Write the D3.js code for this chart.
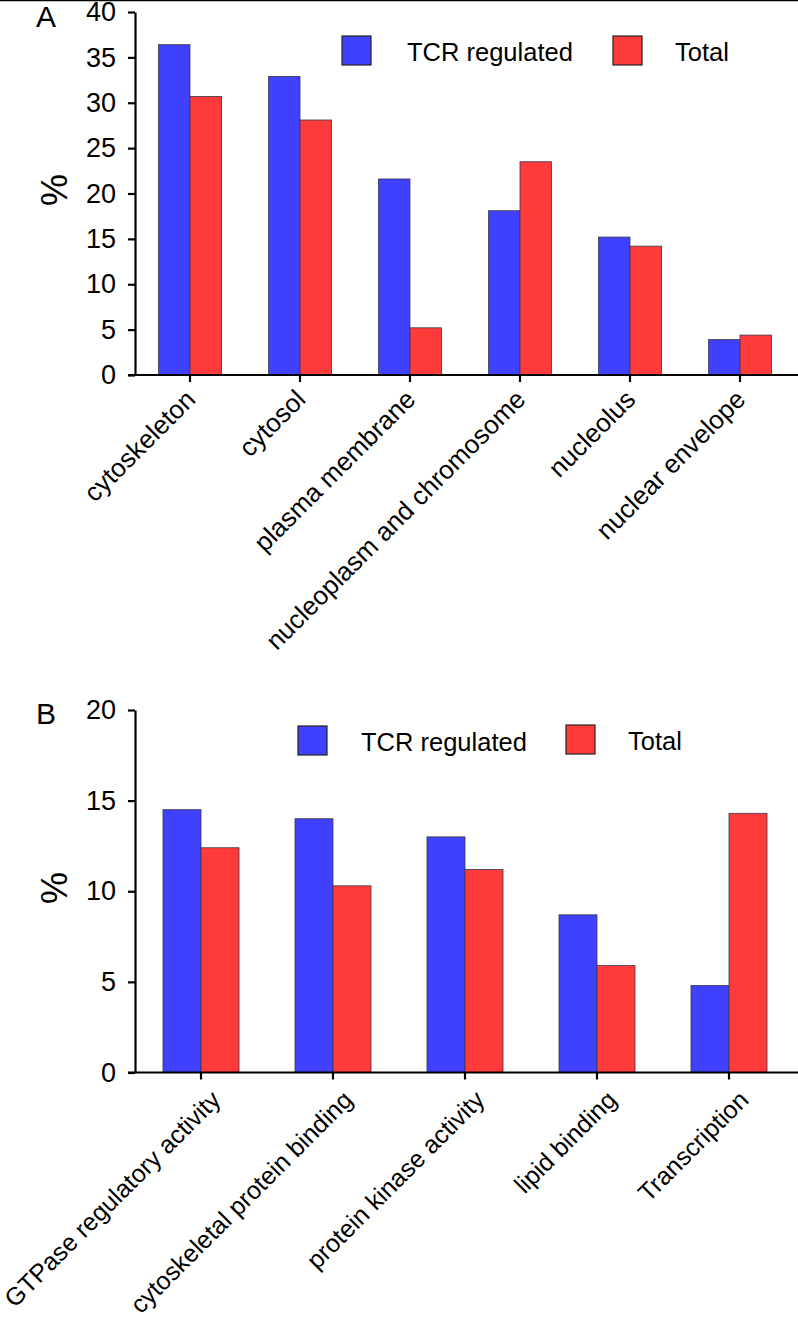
<!DOCTYPE html>
<html>
<head>
<meta charset="utf-8">
<script src="https://cdn.jsdelivr.net/npm/d3@7"></script>
<style>
  html, body { margin: 0; padding: 0; background: #fff; }
  svg { display: block; }
  text { font-family: "Liberation Sans", Arial, sans-serif; fill: #000; }
</style>
</head>
<body>
<svg id="chart" width="798" height="1330"></svg>
<script>
// ---- Data ----
const categoriesA = ["cytoskeleton", "cytosol", "plasma membrane", "nucleoplasm and chromosome", "nucleolus", "nuclear envelope"];
const tcrA = [36.4, 32.9, 21.6, 18.1, 15.2, 3.9];
const totalA = [30.7, 28.1, 5.2, 23.5, 14.2, 4.4];
const ticksA = [0, 5, 10, 15, 20, 25, 30, 35, 40];

const categoriesB = ["GTPase regulatory activity", "cytoskeletal protein binding", "protein kinase activity", "lipid binding", "Transcription"];
const tcrB = [14.5, 14.0, 13.0, 8.7, 4.8];
const totalB = [12.4, 10.3, 11.2, 5.9, 14.3];
const ticksB = [0, 5, 10, 15, 20];

const seriesNames = ["TCR regulated", "Total"];
const seriesColors = ["#4040FF", "#FF3A3A"];

const svg = d3.select("#chart");

// top border line
svg.append("line").attr("x1", 0).attr("x2", 798).attr("y1", 0.5).attr("y2", 0.5)
  .attr("stroke", "#000").attr("stroke-width", 1.5);

function panel(opts) {
  const { cats, s1, s2, ticks, yMax, top, bottom, left, right, letter, letterY,
          legend, labelOff, labelSize, pctY } = opts;
  const g = svg.append("g");
  const x = d3.scaleBand().domain(cats).range([left, right]).paddingInner(opts.pad).paddingOuter(opts.pad / 2);
  const y = d3.scaleLinear().domain([0, yMax]).range([bottom, top]);
  const xs = d3.scaleBand().domain([0, 1]).range([0, x.bandwidth()]);

  const rows = cats.map((c, i) => ({ c, v: [s1[i], s2[i]] }));
  const grp = g.selectAll(".grp").data(rows).join("g")
    .attr("transform", d => `translate(${x(d.c)},0)`);
  grp.selectAll("rect").data(d => d.v.map((v, k) => ({ v, k }))).join("rect")
    .attr("x", d => xs(d.k))
    .attr("width", xs.bandwidth())
    .attr("y", d => y(d.v))
    .attr("height", d => y(0) - y(d.v))
    .attr("fill", d => seriesColors[d.k])
    .attr("stroke", "#3a3a4a")
    .attr("stroke-width", 0.8);

  // y axis
  const ya = g.append("g").attr("transform", `translate(${left},0)`)
    .call(d3.axisLeft(y).tickValues(ticks).tickSize(7).tickPadding(12).tickSizeOuter(0));
  ya.select(".domain").attr("stroke-width", 2.2);
  ya.selectAll(".tick line").attr("stroke-width", 2.2);
  ya.selectAll(".tick text").attr("font-size", 27).style("font-family", "'Liberation Sans', Arial, sans-serif");

  // x axis
  const xa = g.append("g").attr("transform", `translate(0,${bottom})`)
    .call(d3.axisBottom(x).tickSize(7).tickSizeOuter(0).tickFormat(""));
  xa.select(".domain").attr("d", `M${left - 7},0H${798}`).attr("stroke-width", 2.2);
  xa.selectAll(".tick line").attr("stroke-width", 2.2);

  // rotated labels
  g.selectAll(".xl").data(cats).join("text")
    .attr("class", "xl")
    .attr("text-anchor", "end")
    .attr("font-size", labelSize)
    .attr("transform", d => `translate(${x(d) + x.bandwidth() / 2 + labelOff[0]},${bottom + labelOff[1]}) rotate(-45)`)
    .text(d => d);

  // % label
  g.append("text").attr("text-anchor", "middle").attr("font-size", 36)
    .attr("transform", `translate(67,${pctY}) rotate(-90)`).text("%");

  // panel letter
  g.append("text").attr("x", 36).attr("y", letterY).attr("font-size", 30).text(letter);

  // legend
  legend.forEach((L, k) => {
    g.append("rect").attr("x", L.x).attr("y", L.y).attr("width", 29).attr("height", 29)
      .attr("fill", seriesColors[k]).attr("stroke", "#222").attr("stroke-width", 1.2);
    g.append("text").attr("x", L.tx).attr("y", L.y + 25).attr("font-size", 25.5).text(seriesNames[k]);
  });
}

panel({
  cats: categoriesA, s1: tcrA, s2: totalA, ticks: ticksA, yMax: 40,
  top: 12, bottom: 375, left: 135, right: 795, pad: 0.427,
  letter: "A", letterY: 27, pctY: 190,
  labelOff: [7, 26], labelSize: 26,
  legend: [{ x: 342, y: 36, tx: 407 }, { x: 613, y: 36, tx: 675 }]
});

panel({
  cats: categoriesB, s1: tcrB, s2: totalB, ticks: ticksB, yMax: 20,
  top: 710, bottom: 1072.5, left: 135, right: 795, pad: 0.424,
  letter: "B", letterY: 724, pctY: 888,
  labelOff: [21, 29], labelSize: 25,
  legend: [{ x: 298, y: 726, tx: 361 }, { x: 566, y: 725, tx: 628 }]
});
</script>
</body>
</html>
